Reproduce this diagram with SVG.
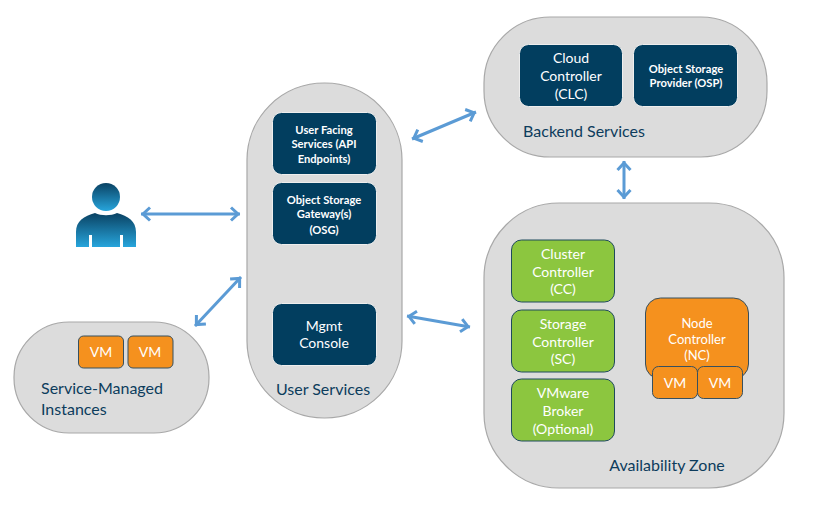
<svg xmlns="http://www.w3.org/2000/svg" width="814" height="506" viewBox="0 0 814 506">
<style>
text{font-family:"Lato","Liberation Sans",sans-serif;text-anchor:middle}
.zone{fill:#dcdcdc;stroke:#a8a8a8;stroke-width:1.2}
.navy{fill:#023e5f;stroke:#eeeeee;stroke-width:1}
.green{fill:#8cc63f;stroke:#1f4a5c;stroke-width:1}
.orange{fill:#f5911e;stroke:#37505f;stroke-width:1}
.w{fill:#fff;font-size:13px}
.w2{fill:#fff;font-size:11.2px;font-weight:700}
.w3{fill:#fff;font-size:14px}
.lab{fill:#0d3c5c;font-size:16px}
.conn{fill:none;stroke:#5b9bd5;stroke-width:3;marker-start:url(#a);marker-end:url(#a)}
</style>
<defs>
<marker id="a" markerUnits="userSpaceOnUse" markerWidth="18" markerHeight="18" refX="15" refY="9" orient="auto-start-reverse">
<path d="M6 2.500L13 9L6 15.500" fill="none" stroke="#5b9bd5" stroke-width="3"/>
</marker>
<linearGradient id="p" x1="0" y1="0" x2="0" y2="1"><stop offset="0" stop-color="#0a4263"/><stop offset="1" stop-color="#27a5dc"/></linearGradient>
</defs>
<g id="user">
<circle cx="106" cy="197" r="14" fill="url(#p)"/>
<path d="M76 247V232C76 221 84 216 95 213C101 216 111 216 117 213C128 216 136 221 136 232V247H123V235H120V247H92V235H89V247Z" fill="url(#p)"/>
</g>
<g id="backend-services">
<rect class="zone" x="484" y="17" width="283" height="140" rx="66"/>
<text class="lab" x="584" y="137">Backend Services</text>
</g>
<g id="clc">
<rect class="navy" x="519.500" y="44.500" width="103" height="62" rx="9"/>
<text class="w3" x="571" y="63">Cloud</text><text class="w3" x="571" y="81">Controller</text><text class="w3" x="571" y="99">(CLC)</text>
</g>
<g id="osp">
<rect class="navy" x="633.500" y="44.500" width="104" height="62" rx="9"/>
<text class="w2" x="686" y="73">Object Storage</text><text class="w2" x="686" y="87">Provider (OSP)</text>
</g>
<g id="user-services">
<rect class="zone" x="247" y="83" width="155" height="335" rx="77"/>
<text class="lab" x="323" y="395">User Services</text>
</g>
<g id="ufs">
<rect class="navy" x="272.500" y="112.500" width="104" height="62" rx="9"/>
<text class="w2" x="324" y="134">User Facing</text><text class="w2" x="324" y="148">Services (API</text><text class="w2" x="324" y="163">Endpoints)</text>
</g>
<g id="osg">
<rect class="navy" x="272.500" y="182.500" width="104" height="62" rx="9"/>
<text class="w2" x="324" y="204">Object Storage</text><text class="w2" x="324" y="218">Gateway(s)</text><text class="w2" x="324" y="234">(OSG)</text>
</g>
<g id="mgmt">
<rect class="navy" x="272.500" y="303.500" width="104" height="62" rx="9"/>
<text class="w3" x="324" y="331">Mgmt</text><text class="w3" x="324" y="348">Console</text>
</g>
<g id="service-managed">
<rect class="zone" x="14" y="322" width="195" height="111" rx="55"/>
<text class="lab" x="41" y="394" style="text-anchor:start">Service-Managed</text>
<text class="lab" x="41" y="415" style="text-anchor:start">Instances</text>
</g>
<g id="smi-vm1"><rect class="orange" x="78.500" y="336" width="45" height="32" rx="5"/><text class="w3" x="101" y="357">VM</text></g>
<g id="smi-vm2"><rect class="orange" x="128" y="336" width="45" height="32" rx="5"/><text class="w3" x="150" y="357">VM</text></g>
<g id="availability-zone">
<rect class="zone" x="484" y="203" width="300" height="285" rx="75"/>
<text class="lab" x="667" y="471">Availability Zone</text>
</g>
<g id="cc">
<rect class="green" x="511.500" y="240" width="103" height="62" rx="10"/>
<text class="w3" x="563" y="259">Cluster</text><text class="w3" x="563" y="277">Controller</text><text class="w3" x="563" y="294">(CC)</text>
</g>
<g id="sc">
<rect class="green" x="511.500" y="310" width="103" height="62" rx="10"/>
<text class="w3" x="563" y="329">Storage</text><text class="w3" x="563" y="347">Controller</text><text class="w3" x="563" y="364">(SC)</text>
</g>
<g id="vmware">
<rect class="green" x="511.500" y="379" width="103" height="62" rx="10"/>
<text class="w3" x="563" y="398">VMware</text><text class="w3" x="563" y="416">Broker</text><text class="w3" x="563" y="434">(Optional)</text>
</g>
<g id="nc">
<rect class="orange" x="645.500" y="298" width="103" height="81" rx="15"/>
<text class="w" x="697" y="328">Node</text><text class="w" x="697" y="344">Controller</text><text class="w" x="697" y="360">(NC)</text>
</g>
<g id="nc-vm1"><rect class="orange" x="652.500" y="366.500" width="45" height="32" rx="6"/><text class="w3" x="675" y="388">VM</text></g>
<g id="nc-vm2"><rect class="orange" x="697.500" y="366.500" width="45" height="32" rx="6"/><text class="w3" x="720" y="388">VM</text></g>
<g id="connectors">
<line class="conn" x1="141" y1="214" x2="240" y2="214"/>
<line class="conn" x1="195" y1="326" x2="241" y2="277"/>
<line class="conn" x1="412" y1="139" x2="476" y2="112"/>
<line class="conn" x1="624" y1="161" x2="624" y2="199"/>
<line class="conn" x1="407" y1="316" x2="470" y2="327"/>
</g>
</svg>
